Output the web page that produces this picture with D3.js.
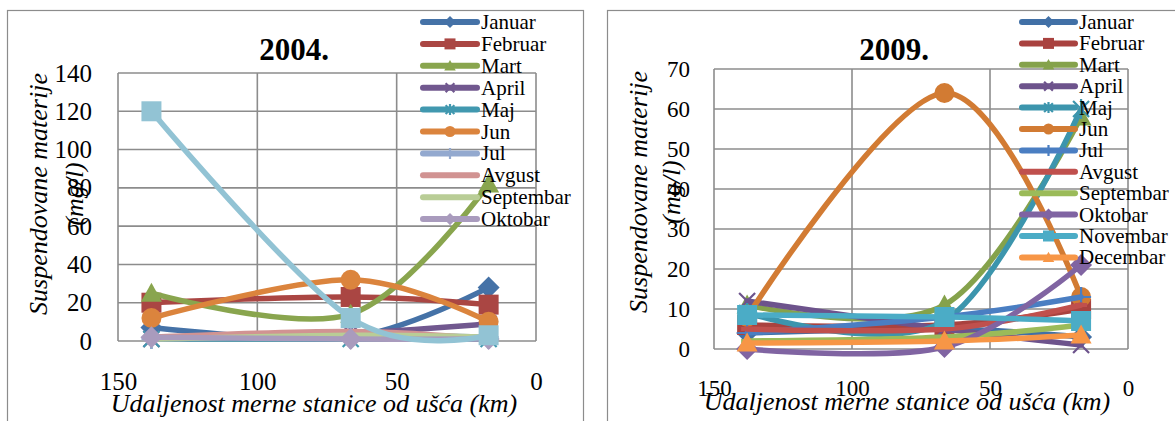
<!DOCTYPE html>
<html>
<head>
<meta charset="utf-8">
<script src="https://cdn.jsdelivr.net/npm/d3@7"></script>
<style>
  html, body { margin: 0; padding: 0; background: #fff; }
  svg { display: block; }
  svg text { font-family: "Liberation Serif", "Times New Roman", Tinos, "DejaVu Serif", serif; }
</style>
</head>
<body>
<svg id="chart" width="1175" height="421"></svg>
<script>
// Measuring stations: distance from the river mouth (km)
const stations = [138, 66.5, 17];

// Month names per year
const months2004 = ["Januar", "Februar", "Mart", "April", "Maj", "Jun", "Jul", "Avgust", "Septembar", "Oktobar", "Novembar"];
const months2009 = ["Januar", "Februar", "Mart", "April", "Maj", "Jun", "Jul", "Avgust", "Septembar", "Oktobar", "Novembar", "Decembar"];

// Suspended matter (mg/l) per month, one value per station
const values2004 = [
  [7, 2, 28],
  [20, 23, 19],
  [25, 14, 82],
  [1, 4, 9],
  [1, 1, 1],
  [12, 32, 10],
  [1, 3, 2],
  [2, 5, 1],
  [1, 3, 2],
  [2, 1, 1],
  [120, 12, 3]
];
const values2009 = [
  [4, 5, 3],
  [6, 6, 10],
  [11, 11, 58],
  [12, 5, 1],
  [9, 7, 60],
  [8, 64, 13],
  [4, 8, 13],
  [5, 5, 11],
  [2, 3, 6],
  [0, 0.5, 21],
  [8.5, 8, 7],
  [1.5, 2, 3.5]
];

// Axis ticks
const xTicks = [150, 100, 50, 0];
const yTicks2004 = [0, 20, 40, 60, 80, 100, 120, 140];
const yTicks2009 = [0, 10, 20, 30, 40, 50, 60, 70];

// Series styling
const markers = ["diamond", "square", "triangle", "x", "star", "circle", "plus", "dash", "dash", "diamond", "square", "triangle"];
const colors2004 = ["#4572A7", "#AA4643", "#89A54E", "#71588F", "#4198AF", "#DB843D", "#93A9CF", "#D19392", "#B9CD96", "#A99BBD", "#92C3D4"];
const colors2009 = ["#4170A6", "#A9423F", "#85A24B", "#6D538C", "#3C95AD", "#D27B33", "#4A7EC2", "#C0504D", "#9BBB59", "#8064A2", "#4BACC6", "#F79646"];

const FONT = '"Liberation Serif", "Times New Roman", Tinos, "DejaVu Serif", serif';
const svg = d3.select("#chart");
const gridColor = "#8c8c8c";

function markerShape(g, type, s, color) {
  const filled = { diamond: 1, square: 1, triangle: 1, circle: 1 };
  if (type === "circle") {
    g.append("circle").attr("r", s).attr("fill", color);
  } else if (filled[type]) {
    let d;
    if (type === "diamond") d = `M0,${-s * 1.1}L${s * 1.1},0L0,${s * 1.1}L${-s * 1.1},0Z`;
    if (type === "square") d = `M${-s},${-s}H${s}V${s}H${-s}Z`;
    if (type === "triangle") d = `M0,${-s * 1.05}L${s * 1.05},${s * 0.85}L${-s * 1.05},${s * 0.85}Z`;
    g.append("path").attr("d", d).attr("fill", color);
  } else {
    let d = "";
    const k = s * 0.8;
    if (type === "x") d = `M${-k},${-k}L${k},${k}M${-k},${k}L${k},${-k}`;
    if (type === "star") d = `M${-k},${-k}L${k},${k}M${-k},${k}L${k},${-k}M0,${-s}V${s}`;
    if (type === "plus") d = `M${-s},0H${s}M0,${-s}V${s}`;
    if (type === "dash") d = `M${-s * 0.6},0H${s * 0.6}`;
    g.append("path").attr("d", d).attr("fill", "none")
      .attr("stroke", color).attr("stroke-width", type === "dash" ? 4 : 2.2)
      .attr("stroke-linecap", "butt");
  }
}

function drawPanel(cfg) {
  const g = svg.append("g").attr("font-family", FONT);

  // Chart frame
  g.append("rect")
    .attr("x", cfg.frame[0] + 0.5).attr("y", cfg.frame[1] + 0.5)
    .attr("width", cfg.frame[2] - cfg.frame[0]).attr("height", 500)
    .attr("fill", "#fff").attr("stroke", gridColor).attr("stroke-width", 1.2);

  const x = d3.scaleLinear().domain([150, 0]).range([cfg.plot.x0, cfg.plot.x1]);
  const y = d3.scaleLinear().domain([0, cfg.yMax]).range([cfg.plot.y1, cfg.plot.y0]);

  // Gridlines and plot border
  const grid = g.append("g").attr("stroke", gridColor).attr("stroke-width", 1.6).attr("fill", "none");
  cfg.yTicks.forEach(t => {
    grid.append("line").attr("x1", cfg.plot.x0).attr("x2", cfg.plot.x1)
      .attr("y1", y(t)).attr("y2", y(t));
  });
  xTicks.forEach(t => {
    grid.append("line").attr("x1", x(t)).attr("x2", x(t))
      .attr("y1", cfg.plot.y0).attr("y2", cfg.plot.y1);
  });

  // Y axis tick labels
  const yAxis = d3.axisLeft(y).tickValues(cfg.yTicks).tickSize(0).tickPadding(cfg.yPad);
  const ya = g.append("g").attr("transform", `translate(${cfg.plot.x0},0)`).call(yAxis);
  ya.attr("font-family", FONT);
  ya.select(".domain").remove();
  ya.selectAll("text").attr("font-size", cfg.tickFont).attr("fill", "#000")
    .attr("font-family", FONT);

  // X axis tick labels (placed well below the plot area)
  const xAxis = d3.axisBottom(x).tickValues(xTicks).tickSize(0).tickPadding(0);
  const xa = g.append("g").attr("transform", `translate(0,${cfg.xTickBase})`).call(xAxis);
  xa.attr("font-family", FONT);
  xa.select(".domain").remove();
  xa.selectAll("text").attr("font-size", cfg.tickFont).attr("fill", "#000")
    .attr("dy", null).attr("y", 0)
    .attr("font-family", FONT);

  // Series
  const line = d3.line()
    .x((d, i) => x(stations[i]))
    .y(d => y(d))
    .curve(d3.curveCatmullRom.alpha(0));

  cfg.values.forEach((vals, si) => {
    const color = cfg.colors[si];
    const sg = g.append("g");
    sg.append("path").attr("d", line(vals)).attr("fill", "none")
      .attr("stroke", color).attr("stroke-width", 5.5)
      .attr("stroke-linecap", "round").attr("stroke-linejoin", "round");
    vals.forEach((v, i) => {
      const mg = sg.append("g").attr("transform", `translate(${x(stations[i])},${y(v)})`);
      markerShape(mg, markers[si], 10, color);
    });
  });

  // Title
  g.append("text").attr("x", cfg.titleX).attr("y", cfg.titleY)
    .attr("text-anchor", "middle").attr("font-weight", "bold")
    .attr("font-size", 31).text(cfg.title);

  // Axis titles
  g.append("text").attr("x", cfg.xTitleX).attr("y", cfg.xTitleY)
    .attr("text-anchor", "middle").attr("font-style", "italic")
    .attr("font-size", 26).text("Udaljenost merne stanice od ušća (km)");

  [["Suspendovane materije", cfg.yTitleX1], ["(mg/l)", cfg.yTitleX2]].forEach(([txt, tx]) => {
    g.append("text")
      .attr("transform", `translate(${tx},${cfg.yTitleY}) rotate(-90)`)
      .attr("text-anchor", "middle").attr("dominant-baseline", "central")
      .attr("font-style", "italic").attr("font-size", 26).text(txt);
  });

  // Legend
  const lg = g.append("g");
  cfg.months.forEach((m, i) => {
    const ry = cfg.legend.y + i * cfg.legend.dy;
    const color = cfg.colors[i];
    lg.append("line").attr("x1", cfg.legend.x1).attr("x2", cfg.legend.x2)
      .attr("y1", ry).attr("y2", ry).attr("stroke", color)
      .attr("stroke-width", 6).attr("stroke-linecap", "round");
    const mg = lg.append("g").attr("transform", `translate(${(cfg.legend.x1 + cfg.legend.x2) / 2},${ry})`);
    markerShape(mg, markers[i], 5.5, color);
    lg.append("text").attr("x", cfg.legend.tx).attr("y", ry)
      .attr("dominant-baseline", "central").attr("font-size", 21).text(m);
  });
}

drawPanel({
  frame: [7, 10, 583],
  plot: { x0: 118, x1: 536, y0: 73, y1: 341 },
  yMax: 140, yTicks: yTicks2004, yPad: 26, tickFont: 25,
  xTickBase: 390,
  values: values2004, colors: colors2004, months: months2004.slice(0, 10),
  title: "2004.", titleX: 294, titleY: 60,
  xTitleX: 314, xTitleY: 412,
  yTitleY: 194, yTitleX1: 38, yTitleX2: 74,
  legend: { x1: 423, x2: 477, tx: 481, y: 22, dy: 21.9 }
});

drawPanel({
  frame: [607, 10, 1180],
  plot: { x0: 714, x1: 1128, y0: 69, y1: 349 },
  yMax: 70, yTicks: yTicks2009, yPad: 24, tickFont: 23,
  xTickBase: 396,
  values: values2009, colors: colors2009, months: months2009,
  title: "2009.", titleX: 894, titleY: 60,
  xTitleX: 907, xTitleY: 410,
  yTitleY: 192, yTitleX1: 638, yTitleX2: 671,
  legend: { x1: 1022, x2: 1075, tx: 1079, y: 22, dy: 21.4 }
});
</script>
</body>
</html>
